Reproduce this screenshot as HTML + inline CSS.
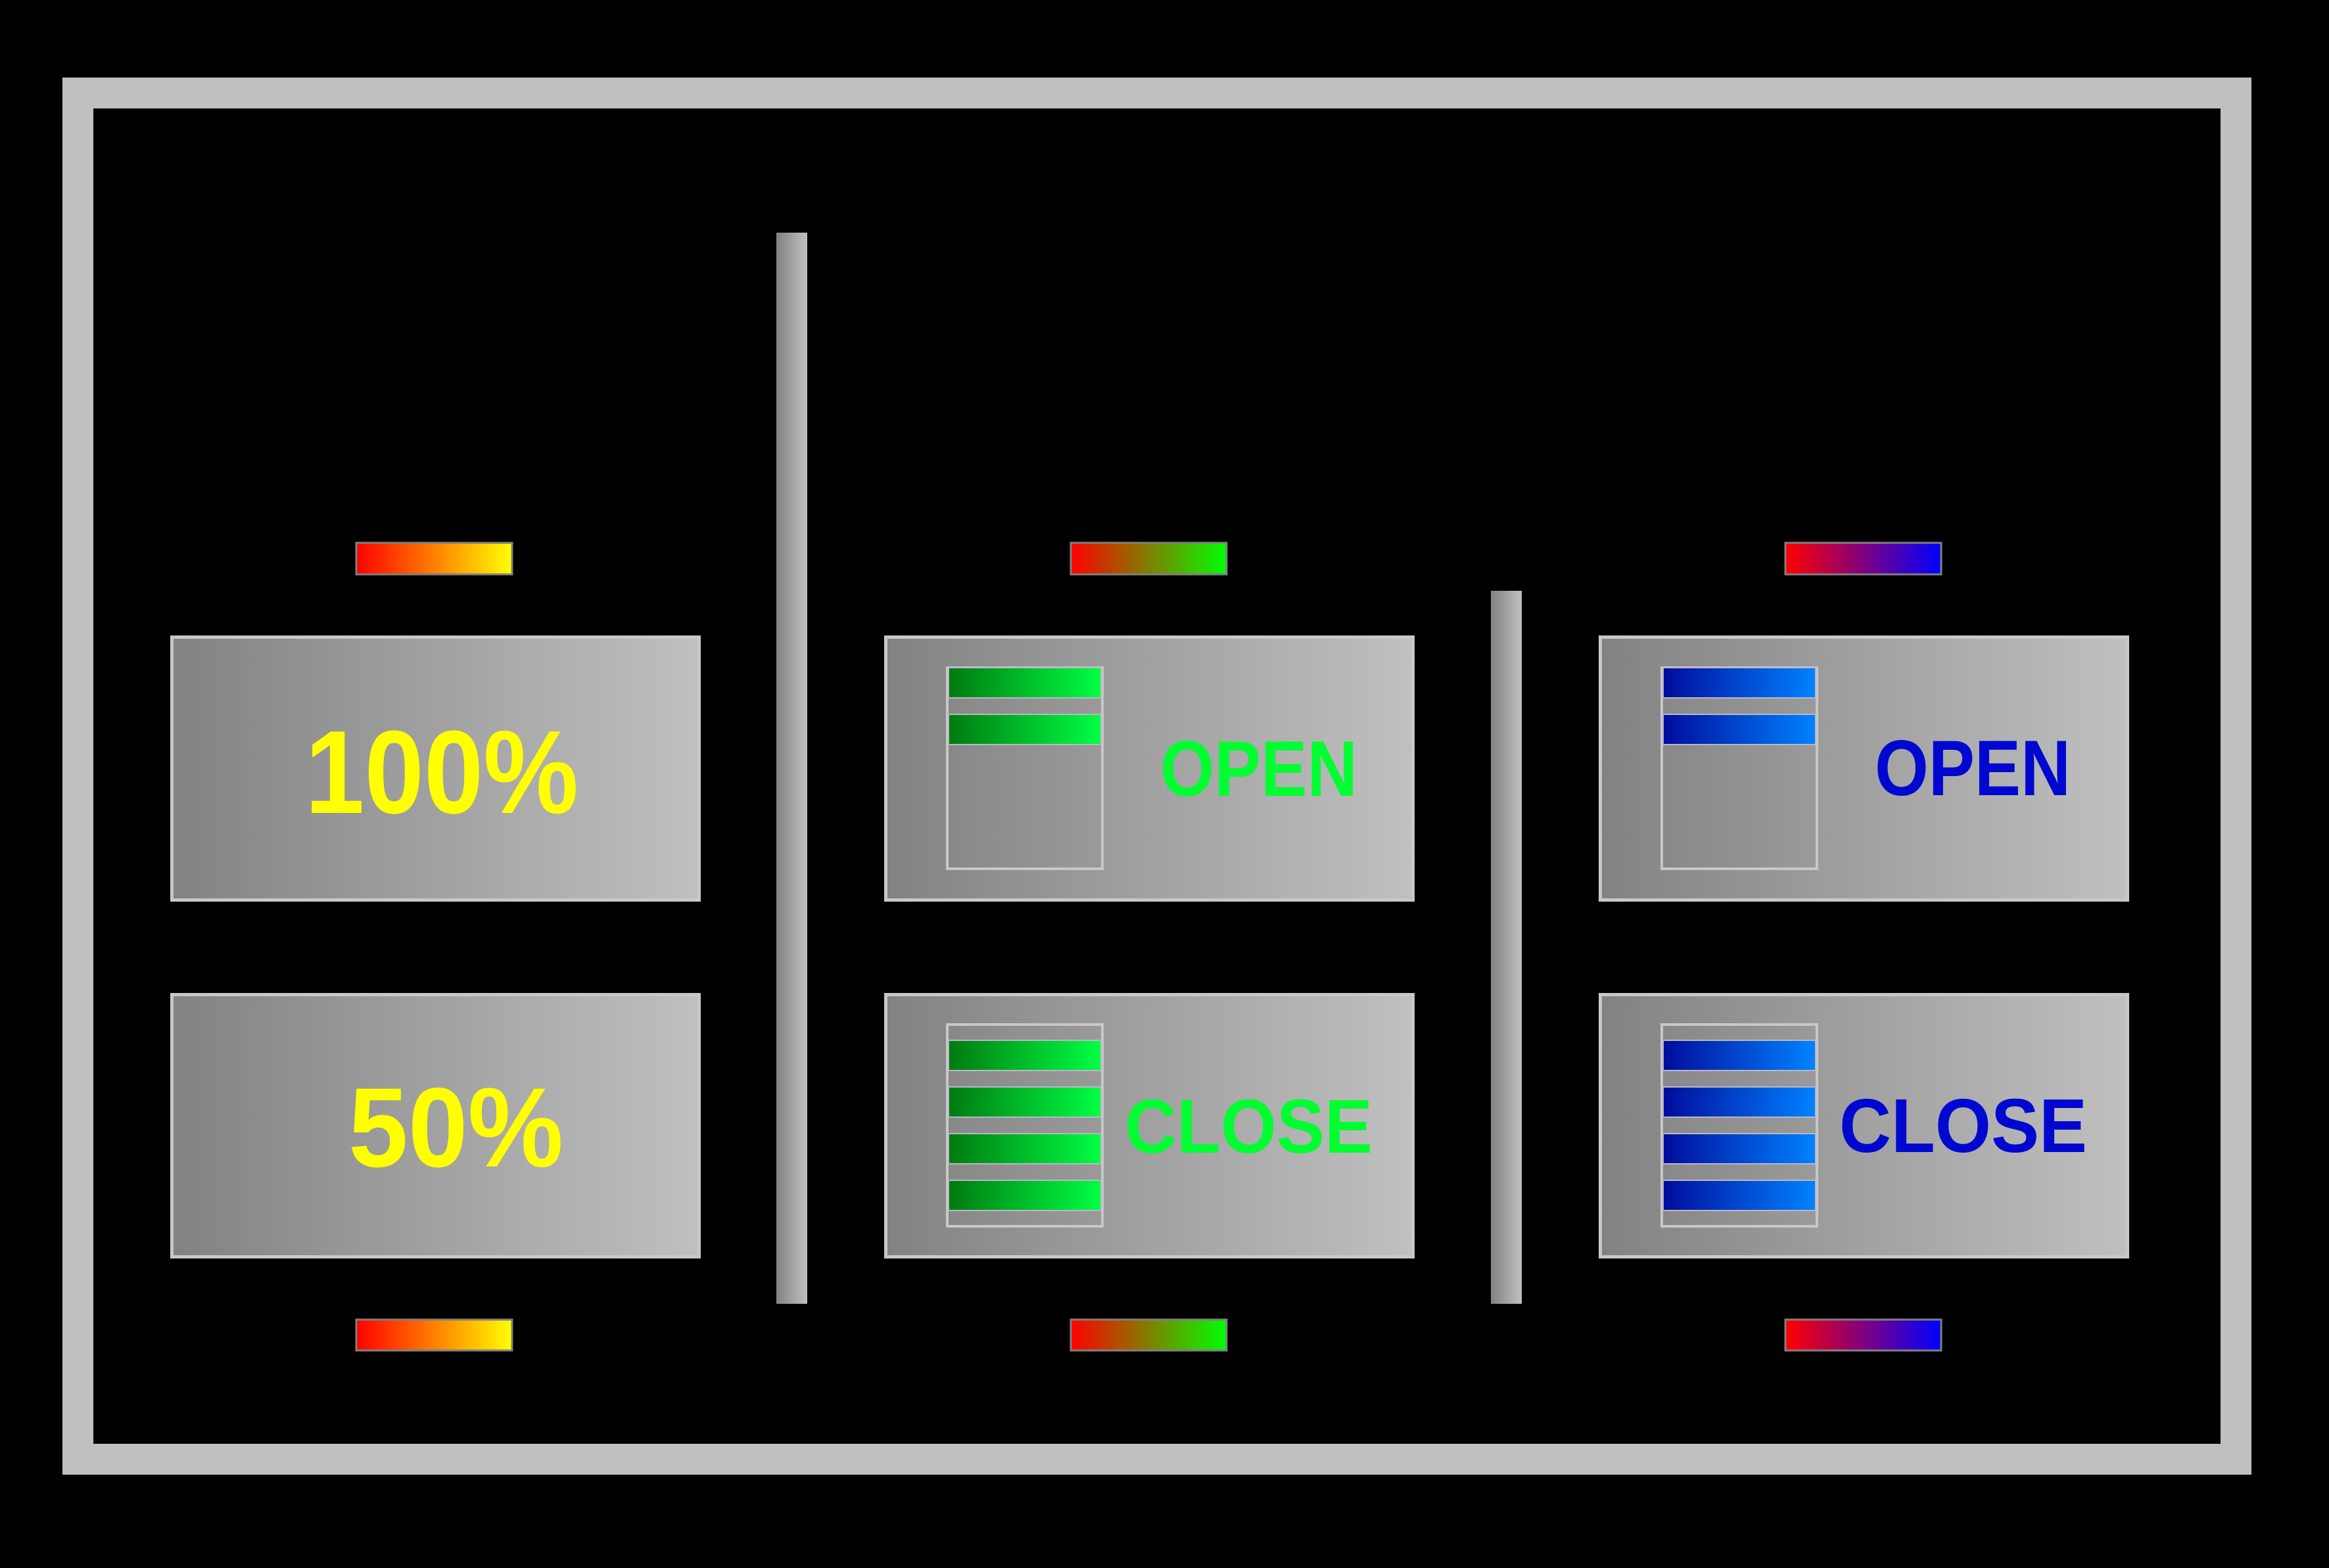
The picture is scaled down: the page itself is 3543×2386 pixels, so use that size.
<!DOCTYPE html>
<html><head><meta charset="utf-8"><style>html,body{margin:0;padding:0;background:#000}svg{display:block}</style></head>
<body>
<svg width="3543" height="2386" viewBox="0 0 3543 2386" xmlns="http://www.w3.org/2000/svg">
<defs>
<linearGradient id="gbox" x1="0" x2="1" y1="0" y2="0"><stop offset="0" stop-color="#828282"/><stop offset="1" stop-color="#c0c0c0"/></linearGradient>
<linearGradient id="gwin" x1="0" x2="1"><stop offset="0" stop-color="#888"/><stop offset="1" stop-color="#9a9a9a"/></linearGradient>
<linearGradient id="gv" x1="0" x2="1"><stop offset="0" stop-color="#828282"/><stop offset="1" stop-color="#c0c0c0"/></linearGradient>
<linearGradient id="gry" x1="0" x2="1"><stop offset="0" stop-color="#ff0000"/><stop offset="1" stop-color="#ffff00"/></linearGradient>
<linearGradient id="grg" x1="0" x2="1"><stop offset="0" stop-color="#ff0000"/><stop offset="1" stop-color="#00ff00"/></linearGradient>
<linearGradient id="grb" x1="0" x2="1"><stop offset="0" stop-color="#ff0000"/><stop offset="1" stop-color="#0000ff"/></linearGradient>
<linearGradient id="sg" x1="0" x2="1"><stop offset="0" stop-color="#007a10"/><stop offset="1" stop-color="#00ff44"/></linearGradient>
<linearGradient id="sb" x1="0" x2="1"><stop offset="0" stop-color="#000c9c"/><stop offset="1" stop-color="#0082ff"/></linearGradient>
</defs>
<rect width="3543" height="2386" fill="#000"/>
<!-- frame -->
<rect x="118.5" y="141.5" width="3283" height="2079" fill="none" stroke="#c0c0c0" stroke-width="47"/>
<!-- vertical dividers -->
<rect x="1181" y="354" width="47" height="1630" fill="url(#gv)"/>
<rect x="2268" y="899" width="47" height="1085" fill="url(#gv)"/>
<!-- small bars -->
<g stroke="#808080" stroke-width="3">
<rect x="542" y="826" width="237" height="48" fill="url(#gry)"/>
<rect x="542" y="2008" width="237" height="47" fill="url(#gry)"/>
<rect x="1629" y="826" width="237" height="48" fill="url(#grg)"/>
<rect x="1629" y="2008" width="237" height="47" fill="url(#grg)"/>
<rect x="2716" y="826" width="237" height="48" fill="url(#grb)"/>
<rect x="2716" y="2008" width="237" height="47" fill="url(#grb)"/>
</g>
<!-- boxes -->
<g fill="url(#gbox)" stroke="#c8c8c8" stroke-width="5">
<rect x="261.5" y="969.5" width="802" height="400"/>
<rect x="261.5" y="1513.5" width="802" height="399"/>
<rect x="1347.5" y="969.5" width="802" height="400"/>
<rect x="1347.5" y="1513.5" width="802" height="399"/>
<rect x="2434.5" y="969.5" width="802" height="400"/>
<rect x="2434.5" y="1513.5" width="802" height="399"/>
</g>
<!-- windows -->
<g fill="url(#gwin)" stroke="#c8c8c8" stroke-width="4">
<rect x="1441" y="1016" width="236" height="306"/>
<rect x="1441" y="1559" width="236" height="307"/>
<rect x="2528" y="1016" width="236" height="306"/>
<rect x="2528" y="1559" width="236" height="307"/>
</g>
<g stroke="#b8b8c8" stroke-width="2">
<rect x="1443" y="1016" width="232" height="46" fill="url(#sg)"/>
<rect x="1443" y="1087" width="232" height="46" fill="url(#sg)"/>
<rect x="1443" y="1583" width="232" height="46" fill="url(#sg)"/>
<rect x="1443" y="1654" width="232" height="46" fill="url(#sg)"/>
<rect x="1443" y="1725" width="232" height="46" fill="url(#sg)"/>
<rect x="1443" y="1796" width="232" height="46" fill="url(#sg)"/>
<rect x="2530" y="1016" width="232" height="46" fill="url(#sb)"/>
<rect x="2530" y="1087" width="232" height="46" fill="url(#sb)"/>
<rect x="2530" y="1583" width="232" height="46" fill="url(#sb)"/>
<rect x="2530" y="1654" width="232" height="46" fill="url(#sb)"/>
<rect x="2530" y="1725" width="232" height="46" fill="url(#sb)"/>
<rect x="2530" y="1796" width="232" height="46" fill="url(#sb)"/>
</g>
<!-- texts -->
<g font-family="Liberation Sans, Arial, sans-serif" font-weight="bold">
<text x="464" y="1237" font-size="180" fill="#ffff00" textLength="416" lengthAdjust="spacingAndGlyphs">100%</text>
<text x="530" y="1775" font-size="172" fill="#ffff00" textLength="327" lengthAdjust="spacingAndGlyphs">50%</text>
<text x="1765" y="1211" font-size="120" fill="#00ff30" textLength="300" lengthAdjust="spacingAndGlyphs">OPEN</text>
<text x="1711" y="1754" font-size="116" fill="#00ff30" textLength="377" lengthAdjust="spacingAndGlyphs">CLOSE</text>
<text x="2852" y="1210" font-size="120" fill="#0008d0" textLength="298" lengthAdjust="spacingAndGlyphs">OPEN</text>
<text x="2798" y="1753" font-size="116" fill="#0008d0" textLength="377" lengthAdjust="spacingAndGlyphs">CLOSE</text>
</g>
</svg>
</body></html>
